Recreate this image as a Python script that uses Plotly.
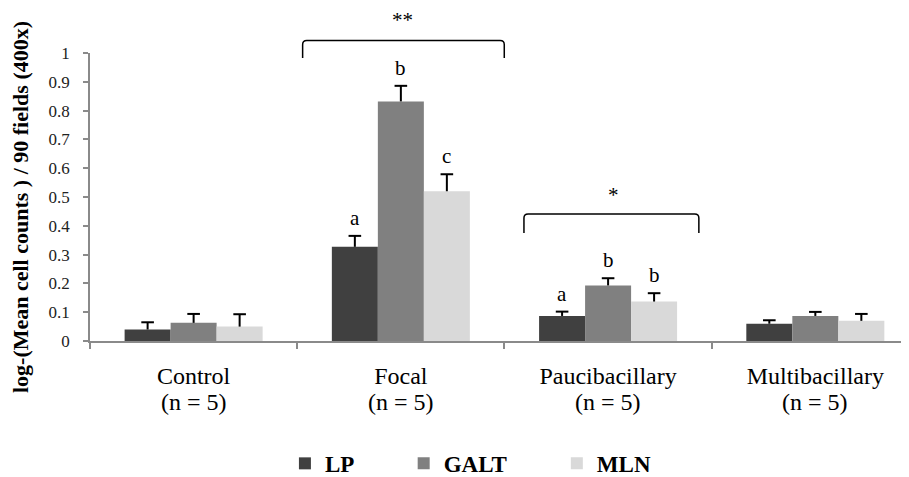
import plotly.graph_objects as go

# ---------------- data ----------------
categories = ["Control", "Focal", "Paucibacillary", "Multibacillary"]
group_sizes = ["(n = 5)", "(n = 5)", "(n = 5)", "(n = 5)"]
series_names = ["LP", "GALT", "MLN"]
lp_values = [0.040, 0.327, 0.087, 0.060]
lp_errors = [0.025, 0.038, 0.015, 0.012]
galt_values = [0.063, 0.832, 0.193, 0.087]
galt_errors = [0.031, 0.054, 0.025, 0.014]
mln_values = [0.050, 0.520, 0.137, 0.070]
mln_errors = [0.043, 0.059, 0.029, 0.024]
# significance letters: (category index, series index, letter)
letter_labels = [(1, 0, "a"), (1, 1, "b"), (1, 2, "c"),
                 (2, 0, "a"), (2, 1, "b"), (2, 2, "b")]
y_ticks = [0, 0.1, 0.2, 0.3, 0.4, 0.5, 0.6, 0.7, 0.8, 0.9, 1]
y_title = "log-(Mean cell counts ) / 90 fields (400x)"

# ---------------- style ----------------
colors = ["#404040", "#808080", "#d9d9d9"]
FONT = "Liberation Serif, Times New Roman, serif"
BARGAP = 0.334
bar_w = (1 - BARGAP) / 3

values = [lp_values, galt_values, mln_values]
errors = [lp_errors, galt_errors, mln_errors]
legends = ["legend", "legend2", "legend3"]

fig = go.Figure()
for i, name in enumerate(series_names):
    fig.add_trace(go.Bar(
        x=categories, y=values[i], name=name,
        marker=dict(color=colors[i], line=dict(width=0)),
        legend=legends[i], hoverinfo="x+y",
    ))

# upward-only error bars ("T" shape), aligned with the grouped bars
for i, name in enumerate(series_names):
    tops = [v + e for v, e in zip(values[i], errors[i])]
    fig.add_trace(go.Scatter(
        x=categories, y=tops, mode="markers", showlegend=False,
        marker=dict(symbol="line-ew-open", size=9, color="black",
                    line=dict(width=2, color="black")),
        error_y=dict(type="data", symmetric=False, array=[0] * len(tops),
                     arrayminus=errors[i], color="black", thickness=2, width=0),
        cliponaxis=False, hoverinfo="skip",
    ))

# letters above bars
for ci, si, txt in letter_labels:
    fig.add_annotation(
        x=ci + (si - 1) * bar_w, y=values[si][ci] + errors[si][ci],
        xref="x", yref="y", text=txt, showarrow=False,
        yanchor="bottom", yshift=4,
        font=dict(family=FONT, size=21, color="black"))

# second line of category labels
for ci, txt in enumerate(group_sizes):
    fig.add_annotation(x=ci, y=-0.212, xref="x", yref="paper", text=txt,
                       showarrow=False, yanchor="middle",
                       font=dict(family=FONT, size=24, color="black"))

# brackets (x in category units, y in paper units == data units)
brackets = [
    dict(x0=0.526, x1=1.499, top=1.043, bottom=0.983, label="**", lx=1.01, ly=1.113),
    dict(x0=1.594, x1=2.438, top=0.441, bottom=0.375, label="*", lx=2.024, ly=0.507),
]
for b in brackets:
    rx, ry = 0.02, 0.014
    path = (f"M {b['x0']},{b['bottom']} L {b['x0']},{b['top'] - ry} "
            f"Q {b['x0']},{b['top']} {b['x0'] + rx},{b['top']} "
            f"L {b['x1'] - rx},{b['top']} "
            f"Q {b['x1']},{b['top']} {b['x1']},{b['top'] - ry} "
            f"L {b['x1']},{b['bottom']}")
    fig.add_shape(type="path", path=path, xref="x", yref="paper",
                  line=dict(color="black", width=1.5))
    fig.add_annotation(x=b["lx"], y=b["ly"], xref="x", yref="paper",
                       text=b["label"], showarrow=False, yanchor="middle",
                       font=dict(family=FONT, size=21, color="black"))

# y-axis title (rotated)
fig.add_annotation(x=-0.0855, y=0.465, xref="paper", yref="paper",
                   text=y_title, textangle=-90, showarrow=False,
                   xanchor="center", yanchor="middle",
                   font=dict(family=FONT, size=22, color="black", weight="bold"))

legend_style = dict(orientation="h", yanchor="middle", xanchor="left", y=-0.425,
                    font=dict(family=FONT, size=23, color="black", weight="bold"),
                    bgcolor="rgba(0,0,0,0)", itemwidth=30, tracegroupgap=0)
# the page body has an 8px margin, so the figure is 8px smaller on each axis
fig.update_layout(
    width=901, height=469,
    font=dict(family=FONT, color="black"),
    margin=dict(l=82, r=0, t=45, b=136, autoexpand=False),
    plot_bgcolor="white", paper_bgcolor="white",
    showlegend=True,
    barmode="group", bargap=BARGAP, bargroupgap=0,
    scattermode="group", scattergap=BARGAP,
    legend=dict(x=0.238, **legend_style),
    legend2=dict(x=0.383, **legend_style),
    legend3=dict(x=0.570, **legend_style),
    xaxis=dict(type="category", range=[-0.5, 3.452], automargin=False,
               showline=True, linecolor="#8a8a8a", linewidth=1.5,
               ticks="outside", tickson="boundaries", ticklen=6,
               tickcolor="#8a8a8a", tickwidth=1.5,
               ticklabelstandoff=12,
               tickfont=dict(family=FONT, size=24, color="black"),
               showgrid=False, zeroline=False),
    yaxis=dict(range=[0, 1], automargin=False,
               tickvals=y_ticks, ticktext=[f"{v:g}" for v in y_ticks],
               showline=True, linecolor="#8a8a8a", linewidth=1.5,
               ticks="outside", ticklen=5, tickcolor="#8a8a8a", tickwidth=1.5,
               ticklabelstandoff=10,
               tickfont=dict(family=FONT, size=17, color="#222"),
               showgrid=False, zeroline=False),
)

fig.write_html("out.html")
